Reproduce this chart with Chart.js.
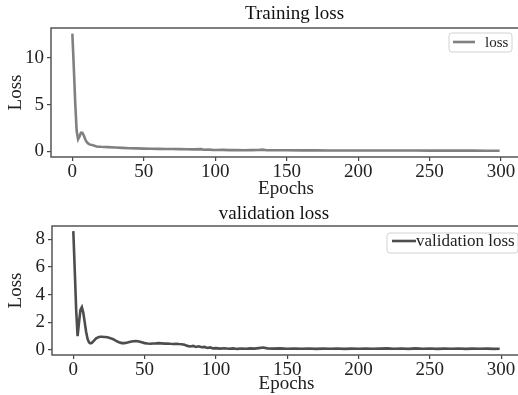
<!DOCTYPE html>
<html><head><meta charset="utf-8">
<script src="https://cdn.jsdelivr.net/npm/chart.js@4.4.1/dist/chart.umd.min.js"></script>
<style>
html,body{margin:0;padding:0;width:518px;height:395px;overflow:hidden;background:#fff;}
#c1{position:absolute;left:0;top:0;}
#c2{position:absolute;left:0;top:198px;}
</style></head><body>
<canvas id="c1" width="589" height="200"></canvas>
<canvas id="c2" width="548" height="197"></canvas>
<script>
// ---- data ----
const trainEpochs = [0,1,2,3,4,5,6,7,8,9,10,11,12,13,14,15,16,17,18,19,20,25,30,35,40,45,50,55,60,65,70,75,80,85,90,92,95,98,100,105,110,115,120,125,130,133,136,140,145,150,160,170,180,190,200,210,220,230,240,250,260,270,280,290,299];
const trainLoss   = [12.6,9.0,5.2,2.2,1.3,1.6,2.0,2.0,1.7,1.3,1.0,0.85,0.75,0.7,0.68,0.62,0.57,0.53,0.5,0.5,0.49,0.46,0.42,0.38,0.34,0.32,0.3,0.29,0.27,0.26,0.25,0.24,0.23,0.22,0.24,0.18,0.2,0.16,0.15,0.16,0.14,0.15,0.13,0.14,0.15,0.19,0.13,0.13,0.12,0.12,0.11,0.11,0.1,0.1,0.1,0.1,0.09,0.09,0.09,0.08,0.08,0.08,0.08,0.07,0.07];

const valEpochs = [0,1,2,3,4,5,6,7,8,9,10,11,12,13,14,15,16,17,18,19,20,22,24,26,28,30,32,34,36,38,40,42,44,46,48,50,52,54,56,58,60,62,64,66,68,70,72,74,76,78,80,82,84,86,88,90,92,94,96,98,100,103,106,109,112,115,118,121,124,127,130,133,136,140,145,150,155,160,165,170,175,180,185,190,195,200,205,210,215,220,225,230,235,240,245,250,255,260,265,270,275,280,285,290,295,299];
const valLoss   = [8.6,5.8,2.9,1.0,2.0,2.9,3.1,2.7,2.0,1.3,0.8,0.55,0.48,0.52,0.62,0.74,0.84,0.9,0.94,0.96,0.96,0.94,0.92,0.86,0.78,0.66,0.56,0.5,0.5,0.54,0.6,0.64,0.65,0.62,0.56,0.5,0.47,0.45,0.47,0.48,0.5,0.48,0.46,0.47,0.45,0.44,0.45,0.43,0.42,0.38,0.3,0.26,0.3,0.22,0.27,0.2,0.23,0.15,0.19,0.12,0.14,0.1,0.13,0.09,0.12,0.08,0.11,0.09,0.12,0.1,0.14,0.18,0.12,0.1,0.12,0.09,0.11,0.09,0.11,0.08,0.1,0.09,0.11,0.08,0.1,0.09,0.11,0.09,0.1,0.12,0.09,0.11,0.08,0.12,0.09,0.11,0.08,0.1,0.09,0.11,0.08,0.1,0.09,0.1,0.08,0.09];

const xTicks = [0,50,100,150,200,250,300];
const trainYTicks = [0,5,10];
const valYTicks = [0,2,4,6,8];

// ---- drawing ----
const SERIF = '"Liberation Serif", "Times New Roman", serif';

const framePlugin = {
  id: 'frame',
  afterDatasetsDraw(chart) {
    const a = chart.chartArea, ctx = chart.ctx;
    ctx.save();
    ctx.strokeStyle = '#555';
    ctx.lineWidth = 1.5;
    ctx.strokeRect(a.left, a.top, a.right - a.left, a.bottom - a.top);
    ctx.restore();
  }
};

const boxLegend = {
  id: 'boxLegend',
  afterDraw(chart, args, o) {
    const ctx = chart.ctx, ds = chart.data.datasets[0];
    ctx.save();
    const r = 3, x = o.x, y = o.y, w = o.w, h = o.h;
    ctx.beginPath();
    ctx.moveTo(x + r, y);
    ctx.lineTo(x + w - r, y); ctx.quadraticCurveTo(x + w, y, x + w, y + r);
    ctx.lineTo(x + w, y + h - r); ctx.quadraticCurveTo(x + w, y + h, x + w - r, y + h);
    ctx.lineTo(x + r, y + h); ctx.quadraticCurveTo(x, y + h, x, y + h - r);
    ctx.lineTo(x, y + r); ctx.quadraticCurveTo(x, y, x + r, y);
    ctx.closePath();
    ctx.fillStyle = 'rgba(255,255,255,0.85)';
    ctx.fill();
    ctx.strokeStyle = '#d2d2d2';
    ctx.lineWidth = 1;
    ctx.stroke();
    ctx.beginPath();
    ctx.strokeStyle = ds.borderColor;
    ctx.lineWidth = ds.borderWidth;
    ctx.moveTo(o.lx0, o.ly); ctx.lineTo(o.lx1, o.ly);
    ctx.stroke();
    ctx.fillStyle = '#222';
    ctx.font = o.size + 'px ' + SERIF;
    ctx.textBaseline = 'middle';
    ctx.textAlign = 'left';
    ctx.fillText(ds.label, o.tx, o.ly + 1);
    ctx.restore();
  }
};

function makeChart(id, cfg) {
  const grid = {display: true, drawOnChartArea: false, drawTicks: true, tickLength: 4, color: '#444', lineWidth: 1.2};
  return new Chart(document.getElementById(id), {
    type: 'line',
    data: {
      datasets: [{
        label: cfg.label,
        data: cfg.epochs.map((e, i) => ({x: e, y: cfg.values[i]})),
        borderColor: cfg.color,
        borderWidth: 2.6,
        pointRadius: 0,
        tension: 0,
        fill: false
      }]
    },
    options: {
      responsive: false,
      animation: false,
      devicePixelRatio: 1,
      layout: {padding: 0},
      scales: {
        x: {
          type: 'linear', min: -14.95, max: 313.95,
          afterBuildTicks: s => { s.ticks = xTicks.map(v => ({value: v})); },
          afterFit: s => { s.height = cfg.xAxisH; s.paddingLeft = 0; s.paddingRight = 0; },
          grid: grid,
          border: {display: false},
          ticks: {font: {family: SERIF, size: 19}, color: '#222', padding: 0, maxRotation: 0},
          title: {display: true, text: 'Epochs', font: {family: SERIF, size: 19}, color: '#222', padding: {top: 0, bottom: 0}}
        },
        y: {
          type: 'linear', min: cfg.yMin, max: cfg.yMax,
          afterBuildTicks: s => { s.ticks = cfg.yTicks.map(v => ({value: v})); },
          afterFit: s => { s.width = cfg.yAxisW; },
          grid: grid,
          border: {display: false},
          ticks: {font: {family: SERIF, size: 19}, color: '#222', padding: 3},
          title: {display: true, text: 'Loss', font: {family: SERIF, size: 19}, color: '#222', padding: {top: 5, bottom: 0}}
        },
        spacer: {
          type: 'linear', position: 'right', display: true,
          afterFit: s => { s.width = cfg.rightW; },
          grid: {display: false}, border: {display: false},
          ticks: {display: false}
        }
      },
      plugins: {
        legend: {display: false},
        tooltip: {enabled: false},
        title: {display: true, text: cfg.title, color: '#111', font: {family: SERIF, size: cfg.titleSize, weight: 'normal'}, padding: cfg.titlePad},
        boxLegend: cfg.legend
      }
    },
    plugins: [framePlugin, boxLegend]
  });
}

makeChart('c1', {
  label: 'loss', epochs: trainEpochs, values: trainLoss, color: '#808080',
  yMin: -0.6, yMax: 13.2, yTicks: trainYTicks, yAxisW: 51, rightW: 68,
  title: 'Training loss', titleSize: 19, titlePad: {top: 2.6, bottom: 2.6},
  xAxisH: 43,
  legend: {x: 449, y: 33, w: 63, h: 19, lx0: 453, lx1: 475, ly: 42, tx: 485, size: 15}
});

makeChart('c2', {
  label: 'validation loss', epochs: valEpochs, values: valLoss, color: '#4d4d4d',
  yMin: -0.36, yMax: 8.97, yTicks: valYTicks, yAxisW: 52, rightW: 27,
  title: 'validation loss', titleSize: 19, titlePad: {top: 4.6, bottom: 0.6},
  xAxisH: 40,
  legend: {x: 387, y: 35, w: 131, h: 20, lx0: 392, lx1: 416, ly: 43, tx: 416, size: 17}
});
</script>
</body></html>
